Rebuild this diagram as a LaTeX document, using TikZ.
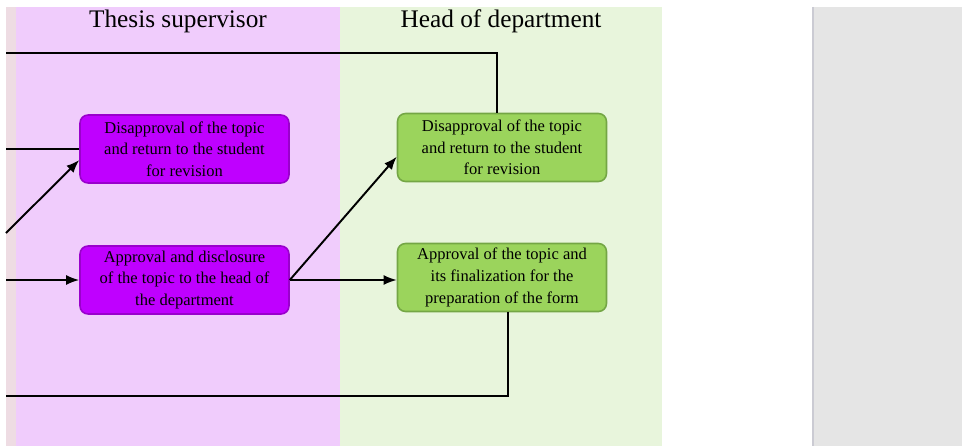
\documentclass[tikz,border=0pt]{standalone}
\usepackage{fontspec}
\setmainfont{Liberation Serif}
\usetikzlibrary{arrows.meta}

\definecolor{lanepurple}{HTML}{F0CCFC}
\definecolor{lanegreen}{HTML}{E8F5DC}
\definecolor{laneedge}{HTML}{EEDCE3}
\definecolor{sidegray}{HTML}{E5E5E5}
\definecolor{sideline}{HTML}{CBCBD3}
\definecolor{boxpurple}{HTML}{BF00FF}
\definecolor{boxpurpleline}{HTML}{9A00CC}
\definecolor{boxgreen}{HTML}{9BD45C}
\definecolor{boxgreenline}{HTML}{74A645}

\tikzset{
  task/.style={rounded corners=0.16cm, line width=0.9pt, align=center,
    minimum width=4.18cm, minimum height=1.36cm, inner sep=0pt,
    font=\fontsize{9.4}{12.3}\selectfont},
  supervisor/.style={task, fill=boxpurple, draw=boxpurpleline},
  head/.style={task, fill=boxgreen, draw=boxgreenline},
  lanetitle/.style={anchor=base, font=\fontsize{14.4}{16}\selectfont},
  flow/.style={line width=1.1pt},
}

\begin{document}
\begin{tikzpicture}[x=0.02cm,y=-0.02cm,>={Latex[length=0.26cm,width=0.2cm]}]
            \useasboundingbox (0,0) rectangle (962,446);
            % lanes
            \fill[laneedge] (6,7) rectangle (16,446);
            \fill[lanepurple] (16,7) rectangle (340,446);
            \fill[lanegreen] (340,7) rectangle (662,446);
            \fill[sidegray] (813,7) rectangle (962,446);
            \draw[sideline,line width=0.6pt] (813,7) -- (813,446);
            \node[lanetitle] (ts) at (178,28) {Thesis supervisor};
            \node[lanetitle] (hd) at (501,28) {Head of department};
            % tasks
            \node[supervisor] (p1) at (184.5,149) {Disapproval of the topic\\and return to the student\\for revision};
            \node[supervisor] (p2) at (184.5,280) {Approval and disclosure\\of the topic to the head of\\the department};
            \node[head] (g1) at (502,147.5) {Disapproval of the topic\\and return to the student\\for revision};
            \node[head] (g2) at (502,277.5) {Approval of the topic and\\its finalization for the\\preparation of the form};
            % loose ends on the left
            \coordinate (tl) at (6,53);
            \coordinate (ml) at (6,149);
            \coordinate (dl) at (6,233);
            \coordinate (bl) at (6,280);
            \coordinate (bb) at (6,396);
            % connectors
            \draw[flow] (tl) -| ([xshift=-0.1cm]g1.north);
            \draw[flow] (ml) -- (p1.west);
            \draw[flow,->] (dl) -- (p1.186);
            \draw[flow,->] (bl) -- (bl -| p2.west);
            \draw[flow,->] (p2.east) -- (g1.185);
            \draw[flow,->] (p2.east) -- (p2.east -| g2.west);
            \draw[flow] ([xshift=0.12cm]g2.south) |- (bb);
        \end{tikzpicture}
\end{document}
